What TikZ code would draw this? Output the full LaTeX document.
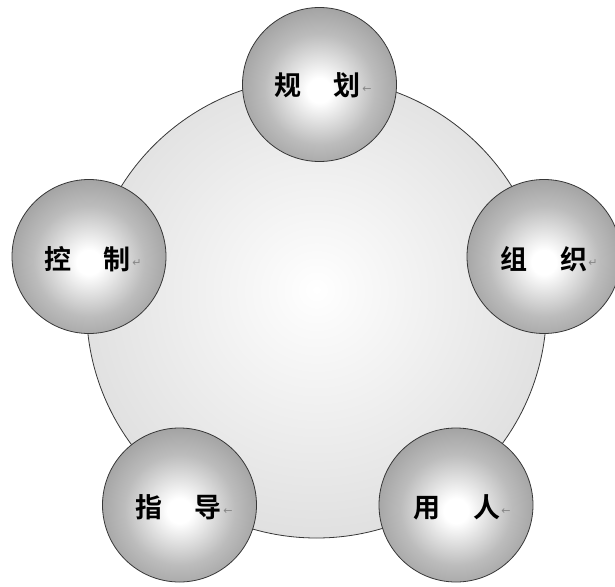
\documentclass[tikz,border=0pt]{standalone}
\usepackage{fontspec}
\newfontfamily\cjk{Noto Sans CJK SC}[UprightFont=* Medium, BoldFont=* Bold]
\newfontfamily\symf{DejaVu Sans}
\definecolor{ballmid}{RGB}{188,188,188}
\definecolor{ballout}{RGB}{138,138,138}
\definecolor{bigout}{RGB}{214,214,214}
\definecolor{edgec}{RGB}{55,55,55}
\definecolor{markc}{RGB}{135,135,135}
\pgfdeclareradialshading{ballshade}{\pgfpoint{0bp}{-2bp}}{color(0bp)=(white); color(4bp)=(white); color(18bp)=(ballmid); color(35bp)=(ballout); color(75bp)=(ballout)}
\pgfdeclareradialshading{bigshade}{\pgfpoint{0bp}{2bp}}{color(0bp)=(white); color(4bp)=(white!98!black); color(35bp)=(bigout); color(75bp)=(bigout)}
\tikzset{
  bigc/.style={circle, draw=edgec, line width=0.8pt, minimum size=460pt, inner sep=0pt, shading=bigshade},
  ball/.style={circle, draw=edgec, line width=0.8pt, minimum size=154pt, inner sep=0pt, shading=ballshade},
  lbl/.style={inner sep=0pt, font=\cjk\bfseries\fontsize{27}{27}\selectfont, text=black},
  pmark/.style={anchor=west, inner sep=1pt, yshift=-4pt, font=\symf\fontsize{11}{11}\selectfont, text=markc}
}
\begin{document}
\begin{tikzpicture}[x=1pt,y=-1pt]
\useasboundingbox (0,0) rectangle (615,586);
\clip (0,0) rectangle (615,586);
\node[bigc] (big) at (316.5,308) {};
\node[ball] (b1) at (319.5,84.5) {};
\node[ball] (b2) at (89,256.5) {};
\node[ball] (b3) at (544,256.5) {};
\node[ball] (b4) at (179.5,505) {};
\node[ball] (b5) at (456,505) {};
\node[lbl] (t1) at (317.5,85.5) {规\hspace{33pt}划};
\node[lbl] (t2) at (87.5,259.5) {控\hspace{33pt}制};
\node[lbl] (t3) at (543.5,259.5) {组\hspace{33pt}织};
\node[lbl] (t4) at (178.5,507.5) {指\hspace{33pt}导};
\node[lbl] (t5) at (456.5,507.5) {用\hspace{33pt}人};
\node[pmark] (m1) at (t1.east) {←};
\node[pmark] (m2) at (t2.east) {↵};
\node[pmark] (m3) at (t3.east) {↵};
\node[pmark] (m4) at (t4.east) {←};
\node[pmark] (m5) at (t5.east) {←};
\end{tikzpicture}
\end{document}
